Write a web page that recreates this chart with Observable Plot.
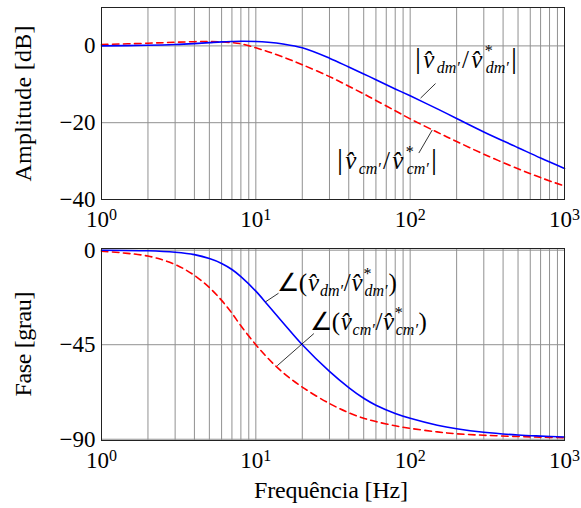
<!DOCTYPE html>
<html><head><meta charset="utf-8">
<script src="https://cdn.jsdelivr.net/npm/d3@7"></script>
<script src="https://cdn.jsdelivr.net/npm/@observablehq/plot@0.6"></script>
<style>
body{margin:0;background:#fff;}
#chart{width:581px;height:508px;}
svg{display:block;}
</style></head><body><div id="chart"></div>
<script>
// ---- data ----
const freq    = [1, 2, 3, 4, 5, 6, 7, 8, 10, 12, 15, 20, 30, 40, 50, 60, 80, 100, 150, 200, 300, 500, 700, 1000];
const ampDm   = [0.0, 0.15, 0.35, 0.6, 0.85, 1.05, 1.15, 1.2, 1.15, 0.95, 0.5, -0.5, -3.2, -5.5, -7.3, -8.8, -11.2, -13.0, -16.4, -18.9, -22.4, -26.5, -29.2, -31.9];
const ampCm   = [0.35, 0.7, 0.95, 1.1, 1.15, 1.05, 0.85, 0.55, -0.5, -1.5, -2.9, -4.9, -8.0, -10.5, -12.5, -14.2, -16.9, -19.0, -22.5, -24.9, -28.2, -32.0, -34.3, -36.5];
const phaseDm = [0, -0.3, -1.0, -2.1, -4.0, -6.3, -9.2, -12.6, -19.5, -26.2, -34.5, -45, -57.7, -65.4, -70.5, -73.8, -77.7, -80.0, -83.3, -85.0, -86.7, -88.0, -88.5, -88.9];
const phaseCm = [-0.5, -2.8, -6.8, -12.0, -17.8, -23.9, -30.0, -36.0, -45.0, -51.5, -58.3, -65.2, -73.0, -77.4, -80.0, -81.6, -83.6, -84.8, -86.5, -87.4, -88.1, -88.7, -89.0, -89.3];

const xTicks     = [1, 10, 100, 1000];
const gridFreqs  = [1,2,3,4,5,6,7,8,9,10,20,30,40,50,60,70,80,90,100,200,300,400,500,600,700,800,900,1000];
const ampTicks   = [0, -20, -40];
const phaseTicks = [0, -45, -90];

const ampLabels   = {y: "Amplitude [dB]"};
const phaseLabels = {y: "Fase [grau]", x: "Frequência [Hz]"};

// annotation anchors in data units (frequency, value)
const ampAnnot = [
  {kind: "dm", wrap: "abs", tx: 232, ty: -5.8,  x1: 116.8, y1: -13.6, x2: 146, y2: -9.8, len: 102},
  {kind: "cm", wrap: "abs", tx: 71.4, ty: -32.3, x1: 139, y1: -21.9, x2: 113.8, y2: -27.9, len: 100}
];
const phaseAnnot = [
  {kind: "dm", wrap: "angle", tx: 33.7, ty: -19.9, x1: 11.55, y1: -24.6, x2: 14.03, y2: -20.5, len: 120},
  {kind: "cm", wrap: "angle", tx: 54,   ty: -38.1, x1: 13.76, y1: -55.0, x2: 23.77, y2: -39.7, len: 117}
];

const ampRows   = freq.map((f, i) => ({f, dm: ampDm[i], cm: ampCm[i]}));
const phaseRows = freq.map((f, i) => ({f, dm: phaseDm[i], cm: phaseCm[i]}));

const FONT = "'Liberation Serif', 'Times New Roman', serif";
const FS = 24;
const GRID = "#919191";

function panel({rows, height, marginTop, marginBottom, yDomain, yTicks, annots}) {
  return Plot.plot({
    width: 581, height, marginLeft: 101, marginRight: 17, marginTop, marginBottom,
    style: {fontFamily: FONT, fontSize: "23px", background: "white", color: "black", overflow: "visible"},
    x: {type: "log", domain: [1, 1000], ticks: xTicks, tickSize: 0, tickPadding: 11,
        tickFormat: d => String(Math.round(Math.log10(d))), label: null},
    y: {domain: yDomain, ticks: yTicks, tickSize: 0, tickPadding: 6, label: null,
        tickFormat: d => d === 0 ? "0" : "\u2212" + Math.abs(d)},
    marks: [
      Plot.ruleX(gridFreqs, {stroke: GRID, strokeWidth: 1}),
      Plot.ruleY(yTicks, {stroke: GRID, strokeWidth: 1}),
      Plot.line(rows, {x: "f", y: "cm", stroke: "#ff0000", strokeWidth: 1.6, strokeDasharray: "6.5,4.5", curve: "catmull-rom"}),
      Plot.line(rows, {x: "f", y: "dm", stroke: "#0000ff", strokeWidth: 1.6, curve: "catmull-rom"}),
      Plot.link(annots, {x1: "x1", y1: "y1", x2: "x2", y2: "y2", stroke: "black", strokeWidth: 0.8}),
      Plot.frame({stroke: "#222", strokeWidth: 1})
    ]
  });
}

function scaleFn(plot, name) {
  const s = plot.scale(name);
  if (s && typeof s.apply === "function") return v => s.apply(v);
  const d = s.type === "log" ? d3.scaleLog() : d3.scaleLinear();
  return d.domain(s.domain).range(s.range);
}

function fixXTicks(plot) {
  d3.select(plot).selectAll("g[aria-label^='x-axis'] text").each(function() {
    const t = d3.select(this);
    const k = t.text();
    if (!/^\d$/.test(k)) return;
    t.text(null);
    t.append("tspan").text("10");
    t.append("tspan").attr("dy", "-0.42em").attr("font-size", 16).text(k);
  });
}

function mathLabel(svg, x, y, kind, wrap, len) {
  const t = svg.append("text").attr("x", x).attr("y", y).attr("text-anchor", "middle")
    .attr("font-family", FONT).attr("font-size", 25).attr("fill", "black");
  const add = (s, o = {}, gap = true) => {
    const ts = t.append("tspan").text(s);
    for (const k in o) ts.attr(k, o[k]);
    if (gap) ts.attr("data-gap", "1");
    return ts;
  };
  if (wrap === "abs") add("|", {"font-size": 30}, false); else add("\u2220(", {}, false);
  add("v\u0302", {"font-style": "italic"});
  add(kind + "\u2032", {"font-style": "italic", "font-size": 16, dy: 5});
  add("/", {dy: -5});
  add("v\u0302", {"font-style": "italic"});
  add("*", {"font-size": 16, dy: -12});
  add(kind + "\u2032", {"font-style": "italic", "font-size": 16, dy: 17, dx: -7}, false);
  if (wrap === "abs") add("|", {"font-size": 30, dy: -5}); else add(")", {dy: -5});
  // widen the spacing so the label spans the same width as in the reference
  const node = t.node();
  const w = node.getBBox().width;
  const spans = Array.from(node.querySelectorAll("tspan[data-gap='1']"));
  const g = (len - w) / spans.length;
  if (g > 0) for (const s of spans) s.setAttribute("dx", (+s.getAttribute("dx") || 0) + g);
}

function yTitle(plot, x, y, text, len) {
  d3.select(plot).append("text").attr("transform", `translate(${x},${y}) rotate(-90)`)
    .attr("text-anchor", "middle").attr("font-family", FONT).attr("font-size", FS)
    .attr("textLength", len).attr("lengthAdjust", "spacing").text(text);
}

function decorate(plot, annots) {
  const sx = scaleFn(plot, "x"), sy = scaleFn(plot, "y");
  const svg = d3.select(plot);
  for (const a of annots) mathLabel(svg, sx(a.tx), sy(a.ty), a.kind, a.wrap, a.len);
  fixXTicks(plot);
}

const topPlot = panel({rows: ampRows, height: 232, marginTop: 7, marginBottom: 33,
  yDomain: [-40, 10], yTicks: ampTicks, annots: ampAnnot});
const botPlot = panel({rows: phaseRows, height: 276, marginTop: 16, marginBottom: 68,
  yDomain: [-90.6, 0.8], yTicks: phaseTicks, annots: phaseAnnot});
document.getElementById("chart").append(topPlot, botPlot);

decorate(topPlot, ampAnnot);
yTitle(topPlot, 31, 103.5, ampLabels.y, 156);

decorate(botPlot, phaseAnnot);
yTitle(botPlot, 31, 112, phaseLabels.y, 105);
d3.select(botPlot).append("text").attr("x", 331).attr("y", 266)
  .attr("text-anchor", "middle").attr("font-family", FONT).attr("font-size", FS)
  .attr("textLength", 154).attr("lengthAdjust", "spacing").text(phaseLabels.x);
</script>
</body></html>
